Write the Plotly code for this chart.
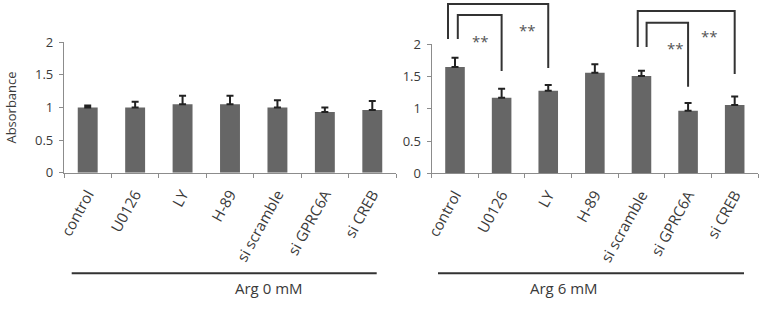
import plotly.graph_objects as go

categories = ["control", "U0126", "LY", "H-89", "si scramble", "si GPRC6A", "si CREB"]
arg0_values = [1.00, 1.00, 1.05, 1.05, 1.00, 0.93, 0.96]
arg0_errors = [0.03, 0.09, 0.13, 0.13, 0.11, 0.07, 0.14]
arg6_values = [1.65, 1.17, 1.28, 1.56, 1.51, 0.97, 1.06]
arg6_errors = [0.14, 0.14, 0.09, 0.13, 0.08, 0.12, 0.13]
group_labels = ["Arg 0 mM", "Arg 6 mM"]
y_ticks = [0, 0.5, 1, 1.5, 2]
y_ticklabels = ["0", "0.5", "1", "1.5", "2"]
y_title = "Absorbance"
sig_text = "**"

W, H = 764, 314
FONT = "Open Sans"
BAR = "#666666"
AX = "#8c8c8c"
TXT = "#3a3a3a"

fig = go.Figure()
for vals, errs, xa, ya in [(arg0_values, arg0_errors, "x", "y"), (arg6_values, arg6_errors, "x2", "y2")]:
    fig.add_trace(go.Bar(
        x=categories, y=vals, xaxis=xa, yaxis=ya, marker=dict(color=BAR, line=dict(width=0)),
        error_y=dict(type="data", array=errs, symmetric=False, arrayminus=[0]*len(errs),
                     color="#222222", thickness=2, width=3.5),
        showlegend=False, hoverinfo="skip",
    ))

def px2paper_y(py):
    return 1 - py / H

xdom1 = [64 / W, 396 / W]
xdom2 = [431.7 / W, 758 / W]
ydom1 = [px2paper_y(172.7), px2paper_y(42.3)]
ydom2 = [px2paper_y(173.3), px2paper_y(44.3)]

common_x = dict(type="category", showline=True, linecolor=AX, linewidth=1.3, ticks="outside",
                tickson="boundaries", ticklen=4, tickcolor=AX, tickangle=-61, automargin=False,
                tickfont=dict(family=FONT, size=15, color=TXT), ticklabelstandoff=6,
                showgrid=False, fixedrange=True)
common_y = dict(range=[0, 2], tickvals=y_ticks, ticktext=y_ticklabels, showline=True, linecolor=AX,
                linewidth=1.3, ticks="outside", ticklen=4, tickcolor=AX, showgrid=False, zeroline=False,
                automargin=False, fixedrange=True,
                tickfont=dict(family=FONT, size=13, color=TXT), ticklabelstandoff=3)

fig.update_layout(
    width=W, height=H, margin=dict(l=0, r=0, t=0, b=0),
    paper_bgcolor="white", plot_bgcolor="white", bargap=0.58,
    xaxis=dict(domain=xdom1, anchor="y", **common_x),
    yaxis=dict(domain=ydom1, anchor="x", **common_y,
               title=dict(text=y_title, font=dict(family=FONT, size=13, color=TXT), standoff=15)),
    xaxis2=dict(domain=xdom2, anchor="y2", **common_x),
    yaxis2=dict(domain=ydom2, anchor="x2", **common_y),
)

# Group underline and labels
line_y = px2paper_y(273.3)
for (x0, x1, xc, label) in [(71.7, 376.7, 233, group_labels[0]), (438, 744, 600, group_labels[1])]:
    fig.add_shape(type="line", xref="paper", yref="paper", x0=x0 / W, x1=x1 / W, y0=line_y, y1=line_y,
                  line=dict(color="#333333", width=2))
    fig.add_annotation(xref="paper", yref="paper", x=xc / W, y=px2paper_y(300), text=label,
                       showarrow=False, font=dict(family=FONT, size=15, color=TXT))

# Significance brackets (x in category indices of axis x2, y in paper px)
brackets = [
    # (left idx, right idx, top px, left leg bottom px, right leg bottom px, star x idx, star y px)
    (0 - 0.15, 2, 4, 39, 68, 1.55, 18),
    (0 + 0.06, 1, 15, 39, 71, 0.54, 29),
    (4 - 0.08, 6, 11, 47, 74, 5.47, 24),
    (4 + 0.11, 5, 22.7, 47, 86.7, 4.72, 36),
]
for (xl, xr, top, lb, rb, sx, sy) in brackets:
    fig.add_shape(type="path", xref="x2", yref="paper",
                  path=f"M {xl},{px2paper_y(lb)} L {xl},{px2paper_y(top)} L {xr},{px2paper_y(top)} L {xr},{px2paper_y(rb)}",
                  line=dict(color="#333333", width=2))
    fig.add_annotation(xref="x2", yref="paper", x=sx, y=px2paper_y(sy), text=sig_text, showarrow=False,
                       font=dict(family=FONT, size=15, color="#555555"))

fig.write_html("out.html", config={"displayModeBar": False},
               post_script="document.body.style.margin='0px';document.body.style.overflow='hidden';")
